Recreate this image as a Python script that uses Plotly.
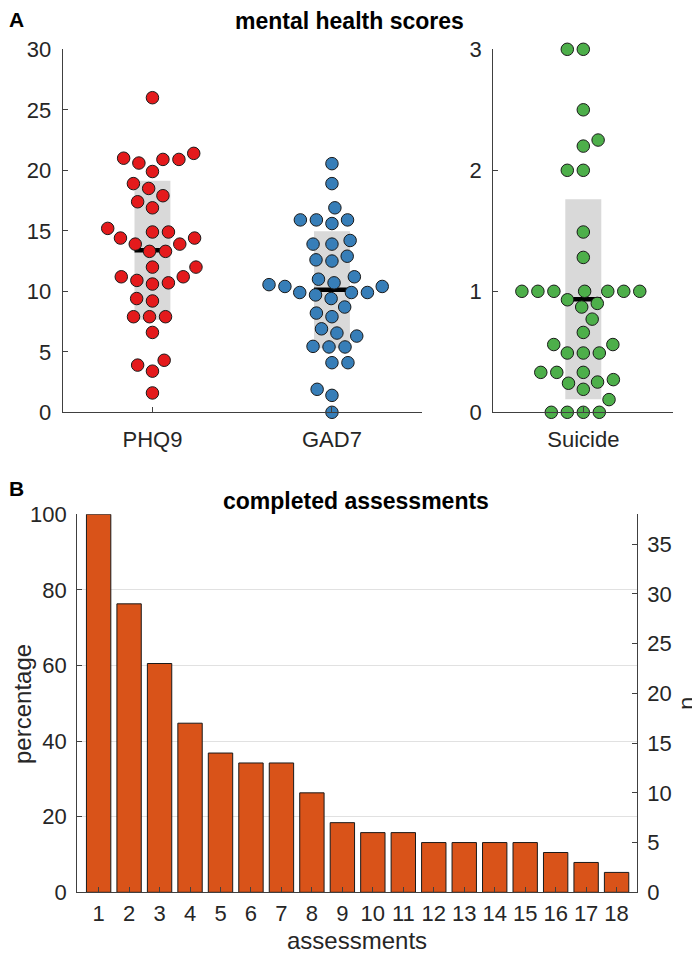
import numpy as np
import plotly.graph_objects as go

# ---------------- data ----------------
phq9 = [26, 21.4, 20.9, 20.9, 21.0, 19.9, 20.6, 18.9, 18.5, 17.9, 17.4, 16.9,
        15.2, 14.9, 14.9, 14.4, 14.4, 13.9, 13.9, 13.3, 13.3, 12.0, 12.0,
        10.9, 11.2, 10.6, 10.7, 11.2, 9.2, 9.4, 7.9, 7.9, 7.9, 6.6, 3.9,
        4.3, 3.4, 1.6]
gad7 = [20.55, 18.9, 16.9, 15.6, 15.9, 15.9, 15.9, 13.9, 14.2, 13.9, 12.5,
        12.9, 12.6, 11.0, 10.4, 10.7, 10.55, 11.2, 9.4, 9.9, 9.9, 10.4, 9.9,
        9.7, 8.2, 7.9, 8.7, 6.55, 5.4, 5.45, 6.3, 6.9, 5.4, 4.1, 4.1, 1.4,
        1.9, 0.0]
suicide = [3.0, 3.0, 2.5, 2.2, 2.25, 2.0, 2.0, 1.49, 1.28, 0.87, 0.93, 1.0,
           1.0, 1.0, 1.0, 1.0, 1.0, 1.0, 0.9, 0.77, 0.66, 0.56, 0.56, 0.49,
           0.49, 0.49, 0.33, 0.33, 0.33, 0.24, 0.27, 0.25, 0.19, 0.105, 0.0,
           0.0, 0.0, 0.0]
score_labels = ["PHQ9", "GAD7"]
suicide_label = ["Suicide"]

assessments = list(range(1, 19))
n_completed = [38, 29, 23, 17, 14, 13, 13, 10, 7, 6, 6, 5, 5, 5, 5, 4, 3, 2]

# ---------------- geometry ----------------
PAGE_W, PAGE_H = 700, 953
OFF = 8                      # default page body margin
W, H = PAGE_W - OFF, PAGE_H - OFF
FONT = "Liberation Sans, Arial, Helvetica, sans-serif"
TXT = "#262626"
AX = "#404040"


def px2x(px):
    return (px - OFF) / W


def px2y(py):
    return 1 - (py - OFF) / H


dom_tl_x = [px2x(62.7), px2x(421.7)]
dom_tr_x = [px2x(493.3), px2x(673.3)]
dom_top_y = [px2y(412.3), px2y(49.3)]
dom_b_x = [px2x(77.3), px2x(636.7)]
dom_b_y = [px2y(892.3), px2y(514.3)]

xr_tl = [0.5, 2.5]
xr_tr = [0.5, 1.5]
yr_tl = [0, 30]
yr_tr = [0, 3]

ppx_tl = (dom_tl_x[1] - dom_tl_x[0]) * W / (xr_tl[1] - xr_tl[0])
ppy_tl = (dom_top_y[1] - dom_top_y[0]) * H / (yr_tl[1] - yr_tl[0])
ppx_tr = (dom_tr_x[1] - dom_tr_x[0]) * W / (xr_tr[1] - xr_tr[0])
ppy_tr = (dom_top_y[1] - dom_top_y[0]) * H / (yr_tr[1] - yr_tr[0])

MS = 12.5          # marker diameter (px)
D = 16.0           # swarm spacing (px)


def swarm_offsets(values, ppy, ppx, d=D):
    """Greedy beeswarm: offsets (data units) keeping markers from overlapping."""
    ys = np.asarray(values, float) * ppy
    order = np.argsort(ys, kind="stable")
    placed = []
    xs = np.zeros(len(ys))
    flip = 1
    for i in order:
        y = ys[i]
        neigh = [(px, py) for px, py in placed if abs(py - y) < d]
        cands = [0.0]
        for px, py in neigh:
            dx = np.sqrt(max(d * d - (py - y) ** 2, 0))
            cands += [px + dx, px - dx]
        cands = sorted(cands, key=lambda c: (round(abs(c), 4), flip * c))
        for c in cands:
            if all((c - px) ** 2 + (y - py) ** 2 >= d * d - 1e-6 for px, py in neigh):
                xs[i] = c
                placed.append((c, y))
                if c != 0:
                    flip = -flip
                break
    return xs / ppx


fig = go.Figure()

groups = [
    (phq9, 1, "#E41A1C", "x", "y", ppy_tl, ppx_tl),
    (gad7, 2, "#377EB8", "x", "y", ppy_tl, ppx_tl),
    (suicide, 1, "#4DAF4A", "x2", "y2", ppy_tr, ppx_tr),
]

for vals, pos, col, xa, ya, ppy, ppx in groups:
    v = np.asarray(vals, float)
    m, s = v.mean(), v.std(ddof=1)
    fig.add_trace(go.Bar(x=[pos], y=[2 * s], base=[m - s], width=0.2,
                         marker=dict(color="#D9D9D9", line=dict(width=0)),
                         xaxis=xa, yaxis=ya, hoverinfo="skip"))
    fig.add_trace(go.Scatter(x=[pos - 0.1, pos + 0.1], y=[m, m], mode="lines",
                             line=dict(color="black", width=4.5),
                             xaxis=xa, yaxis=ya, hoverinfo="skip"))
    offs = swarm_offsets(vals, ppy, ppx)
    fig.add_trace(go.Scatter(x=pos + offs, y=v, mode="markers",
                             marker=dict(size=MS, color=col,
                                         line=dict(color="#1a1a1a", width=1)),
                             cliponaxis=False, xaxis=xa, yaxis=ya))

pct = [n / n_completed[0] * 100 for n in n_completed]
fig.add_trace(go.Bar(x=assessments, y=pct, width=0.8,
                     marker=dict(color="#D95319", line=dict(color="#1a1a1a", width=1)),
                     xaxis="x3", yaxis="y3"))
fig.add_trace(go.Scatter(x=assessments, y=n_completed, mode="markers",
                         marker=dict(opacity=0), xaxis="x3", yaxis="y4",
                         hoverinfo="skip"))

tickfont = dict(family=FONT, size=22, color=TXT)
common = dict(showline=True, linecolor=AX, linewidth=1.2, ticks="inside",
              ticklen=5, tickcolor=AX, tickwidth=1.2, zeroline=False,
              showgrid=False, tickfont=tickfont, fixedrange=True,
              automargin=False)

fig.update_layout(
    template="none",
    width=W, height=H, margin=dict(l=0, r=0, t=0, b=0, pad=0, autoexpand=False),
    paper_bgcolor="white", plot_bgcolor="rgba(0,0,0,0)", showlegend=False,
    barmode="overlay", font=dict(family=FONT, color=TXT),
    xaxis=dict(domain=dom_tl_x, range=xr_tl, tickvals=[1, 2],
               ticktext=score_labels, anchor="y", ticklabelstandoff=7, **common),
    yaxis=dict(domain=dom_top_y, range=yr_tl, tickvals=list(range(0, 31, 5)),
               anchor="x", ticklabelstandoff=6, **common),
    xaxis2=dict(domain=dom_tr_x, range=xr_tr, tickvals=[1],
                ticktext=suicide_label, anchor="y2", ticklabelstandoff=7, **common),
    yaxis2=dict(domain=dom_top_y, range=yr_tr, tickvals=[0, 1, 2, 3],
                anchor="x2", ticklabelstandoff=6, **common),
    xaxis3=dict(domain=dom_b_x, range=[0.3, 18.66], tickvals=assessments,
                anchor="y3", ticklabelstandoff=1, **common),
    yaxis3=dict(domain=dom_b_y, range=[0, 100], tickvals=list(range(0, 101, 20)),
                anchor="x3", ticklabelstandoff=5,
                **{**common, "showgrid": True}, gridcolor="#E1E1E1", gridwidth=1),
    yaxis4=dict(domain=dom_b_y, range=[0, n_completed[0]],
                tickvals=list(range(0, 36, 5)), overlaying="y3", side="right",
                anchor="x3", ticklabelstandoff=5, **common),
)

ann = [
    ("A", 7, 19, "left", 0, 21, True),
    ("mental health scores", 349, 21, "center", 0, 23, True),
    ("B", 7, 488, "left", 0, 21, True),
    ("completed assessments", 356, 501, "center", 0, 23, True),
    ("percentage", 22, 704, "center", -90, 24, False),
    ("assessments", 357, 940, "center", 0, 24, False),
    ("n", 686, 704, "center", -90, 24, False),
]
for text, x, y, xa, ang, size, bold in ann:
    fig.add_annotation(text=f"<b>{text}</b>" if bold else text,
                       x=px2x(x), y=px2y(y), xref="paper", yref="paper",
                       xanchor=xa, yanchor="middle", textangle=ang,
                       showarrow=False,
                       font=dict(family=FONT, size=size, color="black" if bold else TXT))

fig.write_html("out.html")
